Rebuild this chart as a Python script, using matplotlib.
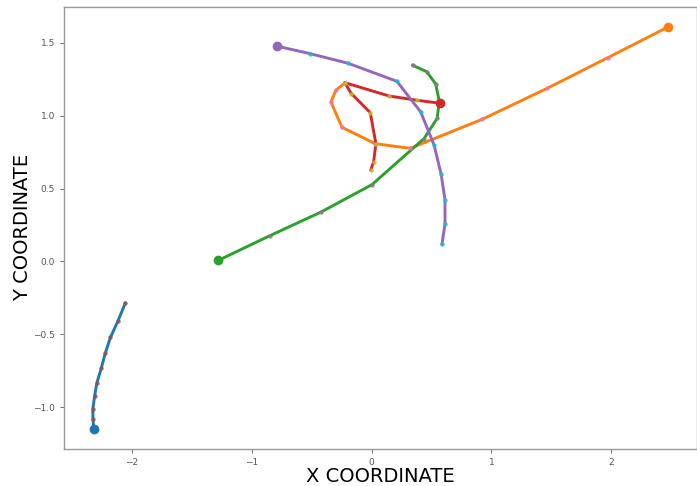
import matplotlib
matplotlib.use("Agg")
import matplotlib.pyplot as plt

# Trajectories (first point = start, drawn with a large marker)
blue_x = [-2.319, -2.327, -2.327, -2.313, -2.294, -2.257, -2.224, -2.180, -2.116, -2.057]
blue_y = [-1.149, -1.080, -1.010, -0.925, -0.833, -0.733, -0.630, -0.520, -0.405, -0.286]

orange_x = [2.477, 1.975, 1.467, 0.923, 0.322, 0.031, -0.247, -0.339, -0.297, -0.225]
orange_y = [1.609, 1.399, 1.188, 0.975, 0.776, 0.808, 0.920, 1.094, 1.176, 1.222]

green_x = [-1.281, -0.851, -0.422, 0.003, 0.438, 0.548, 0.565, 0.535, 0.460, 0.343]
green_y = [0.007, 0.176, 0.339, 0.527, 0.843, 0.982, 1.100, 1.218, 1.302, 1.346]

red_x = [0.574, 0.377, 0.147, -0.225, -0.169, -0.011, 0.036, 0.017, -0.006]
red_y = [1.085, 1.106, 1.135, 1.227, 1.152, 1.021, 0.808, 0.684, 0.628]

purple_x = [-0.790, -0.516, -0.197, 0.211, 0.410, 0.521, 0.580, 0.613, 0.613, 0.588]
purple_y = [1.477, 1.426, 1.360, 1.236, 1.026, 0.801, 0.602, 0.424, 0.259, 0.119]

series = [
    (blue_x, blue_y, "#1f77b4", "#8c564b"),
    (orange_x, orange_y, "#ff7f0e", "#e377c2"),
    (green_x, green_y, "#2ca02c", "#7f7f7f"),
    (red_x, red_y, "#d62728", "#bcbd22"),
    (purple_x, purple_y, "#9467bd", "#17becf"),
]

fig = plt.figure(figsize=(6.97, 4.86), dpi=100)
ax = fig.add_axes([0.092, 0.076, 0.908, 0.910])

for xs, ys, lc, mc in series:
    ax.plot(xs, ys, color=lc, linewidth=2.1, zorder=2)
    ax.scatter(xs, ys, color=mc, s=10, zorder=3, alpha=0.85, linewidths=0)
    ax.plot(xs[0], ys[0], marker="o", color=lc, markersize=6, zorder=4)

ax.set_xlabel("X COORDINATE", fontsize=14, labelpad=0)
ax.set_ylabel("Y COORDINATE", fontsize=14, labelpad=1)
ax.tick_params(labelsize=6.5, colors="#555555", length=3, width=0.6)
for side in ["left", "bottom", "top", "right"]:
    ax.spines[side].set_color("#999999")
    ax.spines[side].set_linewidth(1.0)

fig.savefig("out.png", dpi=100)
